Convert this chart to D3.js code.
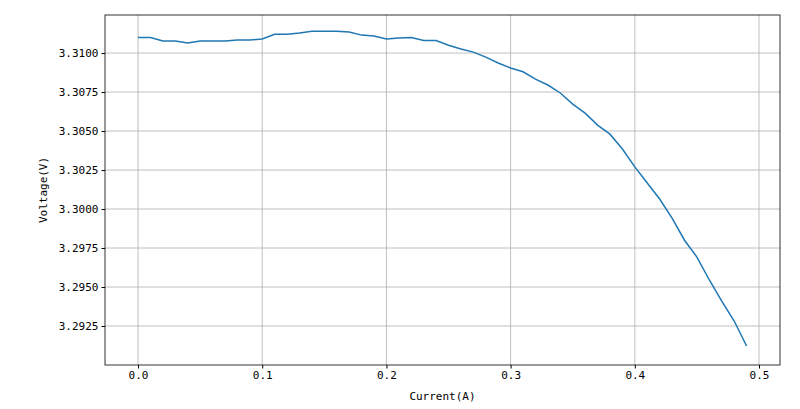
<!DOCTYPE html><html><head><meta charset="utf-8"><script src="https://d3js.org/d3.v7.min.js"></script>
<style>body{margin:0;background:#fff}text{font-family:"DejaVu Sans Mono",monospace;font-size:11px}</style></head><body><svg id="c" width="800" height="409"></svg><script>
const current=d3.range(50).map(i=>+(i*0.01).toFixed(2));
const voltage=[3.3110,3.3110,3.31077,3.31077,3.31064,3.31077,3.31077,3.31077,3.31083,3.31083,3.3109,3.3112,3.3112,3.31128,3.3114,3.3114,3.3114,3.31135,3.31115,3.3111,3.3109,3.31096,3.3110,3.3108,3.3108,3.3105,3.31026,3.31006,3.30974,3.30936,3.30904,3.3088,3.30833,3.30795,3.30744,3.30673,3.30615,3.30538,3.3048,3.30385,3.3027,3.30167,3.30064,3.29942,3.2980,3.29692,3.29545,3.2941,3.29282,3.29122];
const xTicks=[0,0.1,0.2,0.3,0.4,0.5];
const yTicks=[3.2925,3.2950,3.2975,3.3000,3.3025,3.3050,3.3075,3.3100];
const L=105,R=780,T=15,B=365;
const x=d3.scaleLinear().domain([-0.0266,0.5169]).range([L,R]);
const y=d3.scaleLinear().domain([3.2900,3.31244]).range([B,T]);
const svg=d3.select("#c");
svg.append("g").selectAll("line").data(xTicks).join("line").attr("x1",d=>x(d)).attr("x2",d=>x(d)).attr("y1",T).attr("y2",B).attr("stroke","#b0b0b0").attr("stroke-width",0.8);
svg.append("g").selectAll("line").data(yTicks).join("line").attr("y1",d=>y(d)).attr("y2",d=>y(d)).attr("x1",L).attr("x2",R).attr("stroke","#b0b0b0").attr("stroke-width",0.8);
svg.append("path").datum(current.map((c,i)=>[c,voltage[i]])).attr("fill","none").attr("stroke","#1f77b4").attr("stroke-width",1.5).attr("d",d3.line().x(d=>x(d[0])).y(d=>y(d[1])));
svg.append("rect").attr("x",L).attr("y",T).attr("width",R-L).attr("height",B-T).attr("fill","none").attr("stroke","#000").attr("stroke-width",0.8);
const xa=svg.append("g").attr("transform",`translate(0,${B})`).call(d3.axisBottom(x).tickValues(xTicks).tickFormat(d3.format(".1f")).tickSize(3.5));
const ya=svg.append("g").attr("transform",`translate(${L},0)`).call(d3.axisLeft(y).tickValues(yTicks).tickFormat(d3.format(".4f")).tickSize(3.5));
[xa,ya].forEach(a=>{a.select(".domain").remove();a.selectAll("text").attr("fill","#000").style("font-size","11px");a.selectAll("line").attr("stroke","#000");});
svg.append("text").attr("x",(L+R)/2).attr("y",400).attr("text-anchor","middle").text("Current(A)");
svg.append("text").attr("transform",`translate(47,${(T+B)/2}) rotate(-90)`).attr("text-anchor","middle").text("Voltage(V)");
</script></body></html>
